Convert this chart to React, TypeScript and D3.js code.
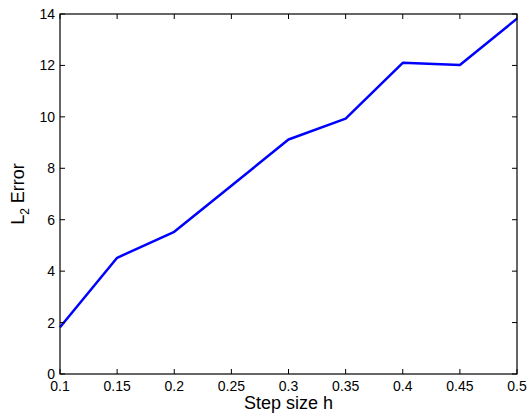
import React from "react";
import * as d3 from "d3";

const stepSizes = [0.1, 0.15, 0.2, 0.25, 0.3, 0.35, 0.4, 0.45, 0.5];
const l2Errors = [1.82, 4.52, 5.53, 7.32, 9.12, 9.93, 12.1, 12.02, 13.82];
const xTicks = [0.1, 0.15, 0.2, 0.25, 0.3, 0.35, 0.4, 0.45, 0.5];
const yTicks = [0, 2, 4, 6, 8, 10, 12, 14];

const W = 527, H = 416;
const left = 60, right = 517, top = 14, bottom = 374;

export default function App() {
  const x = d3.scaleLinear().domain([0.1, 0.5]).range([left, right]);
  const y = d3.scaleLinear().domain([0, 14]).range([bottom, top]);
  const line = d3.line<number>().x((_, i) => x(stepSizes[i])).y((d) => y(d));
  const font = "Helvetica, Arial, 'Liberation Sans', sans-serif";
  const tl = 5;
  return (
    <svg width={W} height={H} style={{ position: "absolute", left: 0, top: 0 }} fontFamily={font}>
      <rect x={0} y={0} width={W} height={H} fill="white" />
      <path d={line(l2Errors) || ""} fill="none" stroke="#0000ff" strokeWidth={2.5} strokeLinejoin="round" />
      {xTicks.map((t) => (
        <g key={"x" + t}>
          <line x1={x(t)} x2={x(t)} y1={bottom} y2={bottom - tl} stroke="#000" strokeWidth={1} />
          <line x1={x(t)} x2={x(t)} y1={top} y2={top + tl} stroke="#000" strokeWidth={1} />
          <text x={x(t)} y={bottom + 17} fontSize={14} textAnchor="middle" fill="#000">{String(t)}</text>
        </g>
      ))}
      {yTicks.map((t) => (
        <g key={"y" + t}>
          <line x1={left} x2={left + tl} y1={y(t)} y2={y(t)} stroke="#000" strokeWidth={1} />
          <line x1={right} x2={right - tl} y1={y(t)} y2={y(t)} stroke="#000" strokeWidth={1} />
          <text x={left - 5} y={y(t) + 5} fontSize={14} textAnchor="end" fill="#000">{String(t)}</text>
        </g>
      ))}
      <rect x={left} y={top} width={right - left} height={bottom - top} fill="none" stroke="#000" strokeWidth={1.2} />
      <text x={(left + right) / 2} y={409} fontSize={18} textAnchor="middle" fill="#000">Step size h</text>
      <text transform={`translate(24, ${(top + bottom) / 2}) rotate(-90)`} fontSize={18} textAnchor="middle" fill="#000">
        L<tspan fontSize={12} dy={5}>2</tspan><tspan dy={-5}> Error</tspan>
      </text>
    </svg>
  );
}
